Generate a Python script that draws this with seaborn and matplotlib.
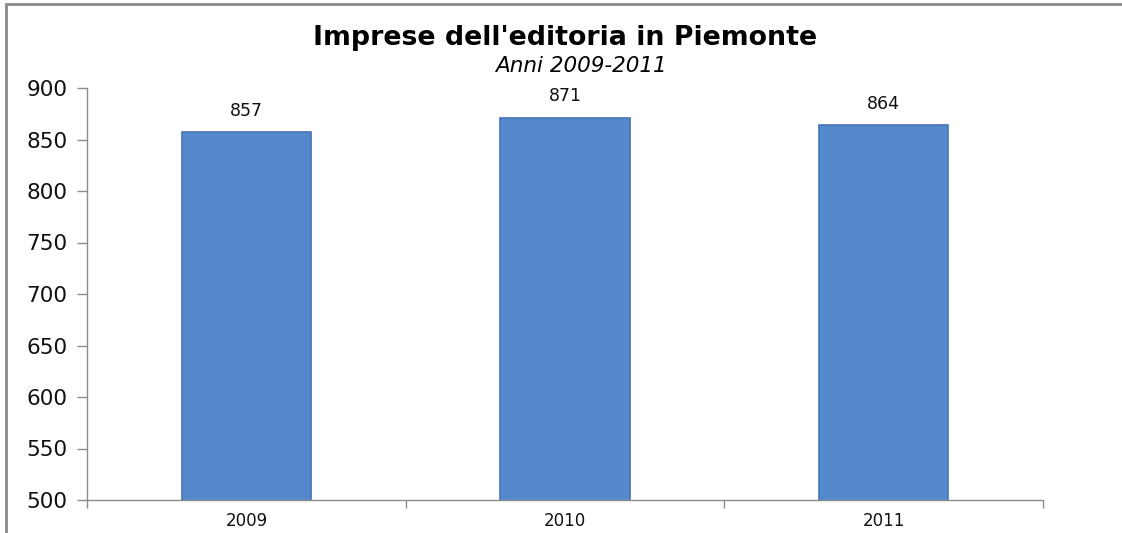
import matplotlib
matplotlib.use("Agg")
import matplotlib.pyplot as plt
from matplotlib.patches import Rectangle
import seaborn as sns
import pandas as pd

years = ["2009", "2010", "2011"]
imprese = [857, 871, 864]
yticks = [500, 550, 600, 650, 700, 750, 800, 850, 900]

sns.set_style("white")
plt.rcParams['font.family'] = ['DejaVu Sans']

df = pd.DataFrame({"anno": years, "imprese": imprese})

fig = plt.figure(figsize=(11.22, 5.33), dpi=100)
ax = fig.add_axes([87/1122, 1-500/533, (1043-87)/1122, (500-88)/533])

sns.barplot(data=df, x="anno", y="imprese", ax=ax, color="#5689CB",
            width=0.405, edgecolor="#4674B3", linewidth=1.2, saturation=1)

ax.set_ylim(500, 900)
ax.set_xlim(-0.5, 2.5)
ax.set_yticks(yticks)
ax.set_yticklabels([str(v) for v in yticks], fontsize=15.5, color="#111111")
ax.tick_params(axis='y', length=7, width=1, color='#8c8c8c', direction='out', pad=7, left=True)
ax.tick_params(axis='x', which='major', length=0, labelsize=12, labelcolor="#111111", pad=9)
ax.set_xticks([-0.5, 0.5, 1.5, 2.5], minor=True)
ax.tick_params(axis='x', which='minor', length=6, width=1, color='#8c8c8c', direction='out', bottom=True)
ax.set_xlabel("")
ax.set_ylabel("")
for s in ["top", "right"]:
    ax.spines[s].set_visible(False)
for s in ["left", "bottom"]:
    ax.spines[s].set_color("#8c8c8c")
    ax.spines[s].set_linewidth(1)

for p, v in zip(ax.patches, imprese):
    ax.annotate(str(v), (p.get_x() + p.get_width()/2, v), xytext=(0, 9),
                textcoords="offset points", ha="center", va="bottom", fontsize=12.5, color="#111111")

fig.text(0.504, 1-38/533, "Imprese dell'editoria in Piemonte", ha="center", va="center",
         fontsize=19.3, fontweight="bold", color="#000000")
fig.text(0.518, 1-66/533, "Anni 2009-2011", ha="center", va="center",
         fontsize=15.5, fontstyle="italic", color="#000000")

fig.add_artist(Rectangle((6/1122, -0.1), 1.2, 1.1 - 4/533, transform=fig.transFigure,
                         fill=False, edgecolor="#8a8a8a", linewidth=2, clip_on=False))

fig.savefig("out.png", dpi=100)
